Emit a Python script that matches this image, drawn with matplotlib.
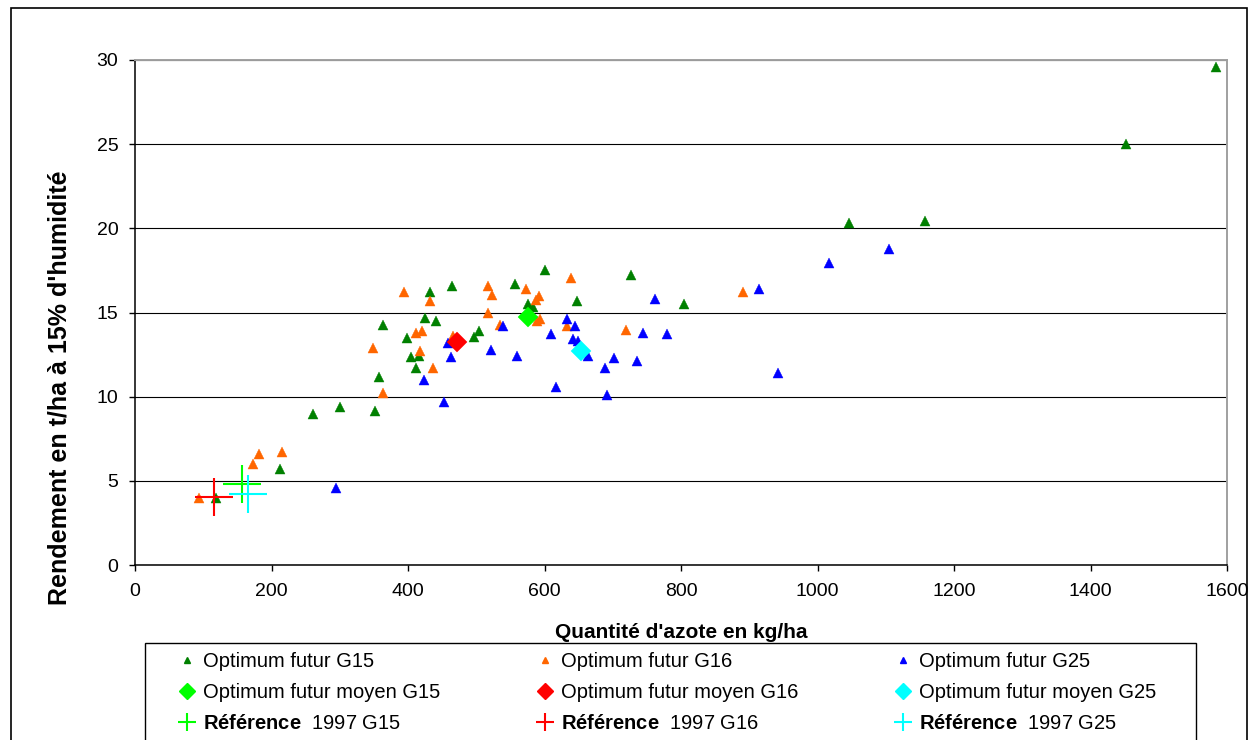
import matplotlib
matplotlib.use("Agg")
import matplotlib.pyplot as plt
from matplotlib.lines import Line2D
from matplotlib.patches import Rectangle

plt.rcParams['font.family'] = ['Liberation Sans', 'DejaVu Sans']
plt.rcParams['mathtext.fontset'] = 'custom'
plt.rcParams['mathtext.rm'] = 'Liberation Sans'
plt.rcParams['mathtext.bf'] = 'Liberation Sans:bold'

# ---- data (N in kg/ha, yield in t/ha) ----
g15_n = [1583, 1452, 1046, 1157, 804, 727, 600, 556, 647, 575, 583, 465, 432, 364,
         425, 441, 399, 496, 504, 405, 416, 411, 358, 261, 300, 352, 212, 118]
g15_y = [29.6, 25.0, 20.3, 20.45, 15.5, 17.2, 17.5, 16.7, 15.7, 15.5, 15.3, 16.6, 16.2, 14.26,
         14.7, 14.5, 13.5, 13.57, 13.9, 12.34, 12.4, 11.7, 11.15, 9.0, 9.37, 9.15, 5.69, 4.0]

g16_n = [639, 573, 592, 587, 593, 589, 633, 719, 890, 394, 432, 517, 523, 517,
         534, 411, 421, 349, 418, 436, 363, 466, 182, 215, 173, 94]
g16_y = [17.05, 16.4, 16.0, 15.75, 14.6, 14.5, 14.2, 13.96, 16.2, 16.2, 15.7, 16.6, 16.06, 14.95,
         14.26, 13.8, 13.9, 12.9, 12.7, 11.7, 10.2, 13.6, 6.57, 6.7, 6.0, 4.0]

g25_n = [1016, 1104, 914, 942, 762, 633, 645, 539, 609, 744, 779, 641, 649, 664,
         559, 702, 688, 735, 617, 691, 521, 463, 459, 424, 452, 295]
g25_y = [17.96, 18.76, 16.4, 11.4, 15.8, 14.6, 14.2, 14.2, 13.7, 13.8, 13.7, 13.4, 13.3, 12.4,
         12.4, 12.3, 11.7, 12.1, 10.6, 10.1, 12.8, 12.34, 13.2, 11.0, 9.7, 4.56]

mean_labels = ["G15", "G16", "G25"]
mean_n = [575, 471, 653]
mean_y = [14.75, 13.27, 12.7]

ref_n = [157, 116, 165]
ref_y = [4.81, 4.02, 4.24]

x_ticks = [0, 200, 400, 600, 800, 1000, 1200, 1400, 1600]
y_ticks = [0, 5, 10, 15, 20, 25, 30]

c_tri = ['#008000', '#FF6600', '#0000FF']
c_mean = ['#00FF00', '#FF0000', '#00FFFF']

W, H = 1251, 740
fig = plt.figure(figsize=(W / 100, H / 100), dpi=100)
fig.patch.set_facecolor('white')

ax = fig.add_axes([135 / W, 1 - 565 / H, (1227.3 - 135) / W, (565 - 60) / H])
ax.set_xlim(0, 1600)
ax.set_ylim(0, 30)
ax.set_xticks(x_ticks)
ax.set_yticks(y_ticks)
ax.tick_params(axis='both', direction='out', length=4, width=1, labelsize=14, colors='black')
ax.tick_params(axis='y', pad=8)
ax.tick_params(axis='x', pad=9)
for s in ['left', 'bottom']:
    ax.spines[s].set_color('black')
    ax.spines[s].set_linewidth(1.1)
for s in ['top', 'right']:
    ax.spines[s].set_color('#a0a0a0')
    ax.spines[s].set_linewidth(1.4)
ax.yaxis.grid(True, color='black', linewidth=0.8)
ax.set_axisbelow(True)

series = [(g15_n, g15_y), (g16_n, g16_y), (g25_n, g25_y)]
for (xs, ys), c in zip(series, c_tri):
    ax.plot(xs, ys, linestyle='none', marker='^', ms=6.5, color=c, mec=c, mew=0.3, zorder=3)
for i in range(3):
    ax.plot([mean_n[i]], [mean_y[i]], linestyle='none', marker='D', ms=10.2,
            color=c_mean[i], mec=c_mean[i], mew=0.3, zorder=4)
for i in range(3):
    ax.plot([ref_n[i]], [ref_y[i]], linestyle='none', marker='+', ms=27,
            mec=c_mean[i], mew=1.5, zorder=5)

ax.set_xlabel("Quantité d'azote en kg/ha", fontsize=15, fontweight='bold')
ax.xaxis.set_label_coords((681 - 135) / 1092.3, -(633 - 565) / 505, transform=ax.transAxes)
ax.set_ylabel("Rendement en t/ha à 15% d'humidité", fontsize=18, fontweight='bold')
ax.yaxis.set_label_coords(-(135 - 60) / 1092.3, (565 - 388) / 505, transform=ax.transAxes)
ax.xaxis.label.set_verticalalignment('center')
ax.yaxis.label.set_verticalalignment('center')

# legend
tri_h = [Line2D([], [], linestyle='none', marker='^', ms=5, color=c) for c in c_tri]
mean_h = [Line2D([], [], linestyle='none', marker='D', ms=8, color=c) for c in c_mean]
ref_h = [Line2D([], [], linestyle='none', marker='+', ms=13, mew=1.5, mec=c) for c in c_mean]
handles, labels = [], []
for i in range(3):
    handles += [tri_h[i], mean_h[i], ref_h[i]]
    labels += ["Optimum futur " + mean_labels[i],
               "Optimum futur moyen " + mean_labels[i],
               r"$\mathbf{Référence}$  1997 " + mean_labels[i]]
leg = fig.legend(handles, labels, loc='upper left', bbox_to_anchor=(177 / W, 1 - 652 / H),
                 ncol=3, frameon=False, fontsize=14.5, borderpad=0, borderaxespad=0,
                 handlelength=1.0, handletextpad=0.3, columnspacing=4.7, labelspacing=0.6)

fig.patches.append(Rectangle((145 / W, -0.05), (1196 - 145) / W, 1 - 643 / H + 0.05,
                             transform=fig.transFigure, fill=False, edgecolor='black', lw=1.0))
fig.patches.append(Rectangle((11 / W, -0.05), (1247 - 11) / W, 1 - 8 / H + 0.05,
                             transform=fig.transFigure, fill=False, edgecolor='black', lw=1.2))

fig.savefig('out.png', dpi=100, facecolor='white')
